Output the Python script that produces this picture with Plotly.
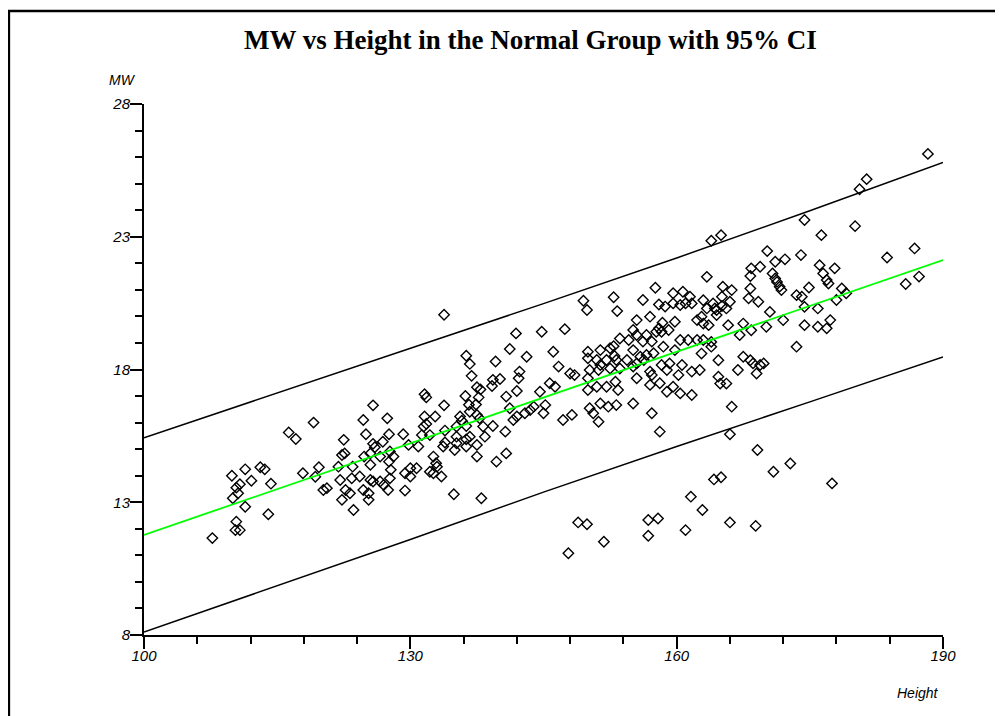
import plotly.graph_objects as go

# ---- data ----
h_a = [119.1, 116.3, 117.1, 109.9, 111.4, 113.1, 113.6, 112.1, 114.3, 110.8, 110.4, 110.0,
       110.6, 111.4, 114.0, 110.4, 110.3, 110.8, 107.7, 117.9, 119.7, 119.3, 120.2, 120.6]
mw_a = [16.00, 15.63, 15.38, 14.00, 14.24, 14.32, 14.24, 13.81, 13.70, 13.68, 13.55, 13.15,
        13.34, 12.83, 12.55, 12.27, 11.95, 11.95, 11.65, 14.09, 14.32, 13.96, 13.46, 13.53]

h_b = [133.8, 141.9, 141.2, 136.3, 139.6, 136.7, 143.1, 136.9, 142.3, 142.2, 140.1, 139.3,
       139.2, 137.5, 137.9, 131.6, 131.8, 136.2, 137.7, 140.8, 142.0, 125.8, 133.8, 137.4,
       136.6, 141.2, 131.6, 132.8, 135.6, 136.7, 124.7, 127.4, 137.5, 137.8, 135.8, 142.0,
       141.6, 142.9, 131.5, 131.8, 133.9, 135.2, 136.3, 138.2, 139.3, 140.7, 122.5, 125.0,
       127.6, 129.2, 125.8, 126.9, 126.0, 132.2, 135.2, 136.7, 138.4, 131.3, 133.9, 135.2,
       136.3, 137.5, 122.3, 122.6, 124.8, 125.5, 126.6, 127.7, 128.1, 129.8, 130.9, 133.7,
       135.0, 136.3, 137.5, 139.7, 140.8, 121.9, 123.5, 125.5, 127.6, 132.6, 132.9, 133.0,
       130.0, 129.4, 130.7, 132.2, 127.8, 122.1, 123.4, 124.3, 125.5, 125.8, 126.6, 127.7,
       127.0, 130.0, 132.6, 133.5, 122.7, 122.3, 123.2, 124.7, 125.3, 125.3, 127.5, 129.4,
       134.9, 138.0, 123.6]
mw_b = [20.06, 19.36, 18.77, 18.52, 18.30, 18.21, 18.48, 17.76, 17.92, 17.67, 17.64, 17.61,
        17.38, 17.33, 17.25, 17.07, 16.95, 17.00, 16.95, 16.98, 17.19, 16.65, 16.65, 16.68,
        16.67, 16.54, 16.23, 16.23, 16.23, 16.41, 16.10, 16.16, 16.29, 16.16, 16.07, 16.23,
        16.10, 16.35, 15.85, 15.95, 15.70, 15.85, 15.87, 15.85, 15.87, 15.66, 15.35, 15.56,
        15.56, 15.56, 15.20, 15.28, 15.07, 15.53, 15.47, 15.47, 15.47, 15.53, 15.25, 15.22,
        15.37, 15.16, 14.78, 14.84, 14.72, 14.84, 14.72, 14.91, 14.72, 15.16, 15.10, 15.10,
        14.97, 15.10, 14.72, 14.53, 14.84, 14.34, 14.34, 14.41, 14.53, 14.72, 14.47, 14.34,
        14.28, 14.09, 14.28, 14.15, 14.22, 13.84, 13.90, 13.97, 13.84, 13.78, 13.78, 13.90,
        13.65, 13.97, 14.09, 13.97, 13.46, 13.09, 13.34, 13.46, 13.34, 13.09, 13.46, 13.44,
        13.30, 13.15, 12.71]

h_c = [157.6, 159.6, 160.7, 161.5, 161.7, 152.9, 156.2, 149.5, 149.9, 153.3, 158.0, 158.7,
       159.6, 160.4, 161.0, 162.3, 155.5, 157.0, 158.4, 159.8, 158.0, 158.3, 159.1, 144.8,
       147.4, 155.1, 155.5, 156.6, 157.7, 153.6, 154.6, 152.9, 156.2, 157.2, 160.4, 161.3,
       162.3, 146.1, 150.0, 151.4, 152.5, 153.0, 155.1, 155.9, 156.6, 157.4, 158.5, 159.8,
       150.0, 151.0, 152.1, 153.2, 154.4, 155.5, 156.3, 158.3, 159.2, 160.6, 151.4, 146.7,
       148.0, 148.5, 150.2, 151.2, 152.5, 153.6, 155.1, 157.0, 158.9, 160.2, 161.7, 145.7,
       146.3, 144.6, 150.0, 150.0, 151.0, 152.1, 153.1, 153.4, 155.5, 155.1, 157.2, 158.1,
       158.9, 159.6, 160.4, 161.7, 157.0, 143.5, 143.9, 145.0, 145.2, 147.2, 148.2, 150.2,
       150.6, 151.2, 151.4, 152.3, 153.2, 157.2, 158.1]
mw_c = [21.08, 20.87, 20.93, 20.74, 20.49, 20.72, 20.62, 20.59, 20.24, 20.20, 20.45, 20.37,
        20.49, 20.43, 20.49, 19.86, 19.86, 19.99, 19.76, 19.80, 19.55, 19.42, 19.49, 19.42,
        19.52, 19.49, 19.30, 19.30, 19.42, 19.17, 19.11, 18.88, 19.05, 19.05, 19.11, 19.11,
        19.11, 18.67, 18.67, 18.73, 18.80, 18.51, 18.73, 18.48, 18.55, 18.61, 18.86, 18.73,
        18.42, 18.36, 18.36, 18.36, 18.36, 18.23, 18.36, 18.17, 18.23, 18.17, 18.17, 18.11,
        17.85, 17.79, 17.98, 17.98, 18.04, 18.04, 18.11, 17.92, 17.98, 17.79, 17.92, 17.48,
        17.35, 17.16, 17.67, 17.23, 17.35, 17.35, 17.54, 17.23, 17.67, 16.72, 17.79, 17.48,
        17.16, 17.35, 17.10, 17.04, 17.42, 16.47, 16.60, 16.35, 16.66, 16.10, 16.29, 16.54,
        16.35, 16.03, 16.72, 16.60, 16.66, 16.35, 15.66]

h_d = [174.4, 176.3, 163.9, 165.0, 170.2, 174.0, 171.1, 172.2, 168.4, 169.4, 163.4, 168.3,
       170.8, 171.1, 171.3, 171.6, 171.8, 176.1, 176.5, 176.9, 177.8, 178.6, 166.2, 165.2,
       165.1, 168.3, 168.1, 169.2, 173.5, 174.1, 174.9, 174.4, 175.9, 163.0, 164.1, 164.3,
       164.5, 165.1, 165.6, 166.0, 163.4, 162.8, 163.0, 163.6, 164.5, 165.8, 167.5, 168.4,
       170.1, 170.5, 172.0, 174.4, 175.9, 177.3, 176.9, 167.1, 163.9, 163.0, 163.9, 173.5,
       162.8, 164.7, 166.9, 167.5, 168.3, 168.6, 169.4, 169.8, 169.0, 164.7, 164.9, 165.6,
       166.2, 162.6]
mw_d = [23.63, 23.06, 22.85, 23.06, 22.46, 22.31, 22.06, 22.15, 21.81, 21.87, 21.49, 21.52,
        21.62, 21.43, 21.30, 21.12, 20.99, 21.93, 21.62, 21.37, 21.81, 21.05, 20.99, 21.12,
        20.74, 21.05, 20.68, 20.55, 20.80, 20.74, 21.09, 20.36, 20.30, 20.61, 20.49, 20.30,
        20.24, 20.39, 20.30, 20.55, 20.30, 19.99, 19.73, 19.67, 20.05, 19.67, 19.73, 19.48,
        19.61, 20.17, 19.86, 19.67, 19.61, 19.86, 19.55, 19.30, 19.04, 19.11, 18.86, 18.86,
        18.60, 18.35, 17.98, 18.48, 18.35, 18.23, 18.17, 18.23, 17.85, 17.73, 17.47, 17.47,
        16.60, 17.98]

h_e = [166.0, 169.1, 170.9, 172.8, 164.2, 165.0, 161.6, 162.9, 166.0, 168.9, 148.9, 149.9,
       156.8, 157.9, 161.0, 156.8, 151.8, 147.8]
mw_e = [15.56, 14.97, 14.15, 14.46, 13.86, 13.94, 13.21, 12.71, 12.24, 12.11, 12.24, 12.17,
        12.33, 12.39, 11.95, 11.74, 11.51, 11.08]

h_f = [188.3, 181.4, 180.6, 180.1, 183.7, 186.8, 187.3, 185.8, 179.1, 178.0, 177.1, 177.5]
mw_f = [26.12, 25.17, 24.79, 23.40, 22.22, 22.56, 21.50, 21.22, 20.87, 20.62, 21.24, 13.71]

height = h_a + h_b + h_c + h_d + h_e + h_f
mw = mw_a + mw_b + mw_c + mw_d + mw_e + mw_f

fit_x = [100, 190]
fit_y = [11.77, 22.12]

ci_x = [100, 115, 130, 145, 160, 175, 190]
ci_upper = [15.43, 17.12, 18.80, 20.48, 22.20, 23.98, 25.80]
ci_lower = [8.11, 9.85, 11.60, 13.38, 15.10, 16.78, 18.47]

x_ticks = [100, 130, 160, 190]
y_ticks = [8, 13, 18, 23, 28]

title_text = "MW vs Height in the Normal Group with 95% CI"

# ---- figure ----
# page body has an 8px margin: plot area spans screen x 144..943, y 104..635
PX0, PY0, PW, PH = 144, 104, 799, 531


def px(x):
    return (x - PX0) / PW


def py(y):
    return (PY0 + PH - y) / PH


fig = go.Figure()
fig.add_trace(go.Scatter(x=ci_x, y=ci_upper, mode="lines",
                         line=dict(color="black", width=1.5), hoverinfo="skip"))
fig.add_trace(go.Scatter(x=ci_x, y=ci_lower, mode="lines",
                         line=dict(color="black", width=1.5), hoverinfo="skip"))
fig.add_trace(go.Scatter(x=height, y=mw, mode="markers",
                         marker=dict(symbol="diamond-open", size=8, color="black",
                                     line=dict(color="black", width=1.4))))
fig.add_trace(go.Scatter(x=fit_x, y=fit_y, mode="lines",
                         line=dict(color="#00ff00", width=1.8), hoverinfo="skip"))

tick_font = dict(family="Liberation Sans Narrow, Liberation Sans, Arial", size=15,
                 color="black", style="italic")
label_font = dict(family="Liberation Sans Narrow, Liberation Sans, Arial", size=14,
                  color="black", style="italic")

fig.update_layout(
    width=995, height=708,
    margin=dict(l=136, r=60, t=96, b=81),
    paper_bgcolor="white", plot_bgcolor="white",
    showlegend=False,
    xaxis=dict(range=[100, 190], tickvals=x_ticks, ticktext=[str(v) for v in x_ticks],
               showline=True, linecolor="black", linewidth=2, ticks="outside",
               ticklen=12, tickwidth=1.5, tickcolor="black", showgrid=False,
               zeroline=False, tickfont=tick_font, ticklabelstandoff=-6,
               minor=dict(dtick=6, tick0=100, ticks="outside", ticklen=7, tickwidth=1.5,
                          tickcolor="black", showgrid=False)),
    yaxis=dict(range=[8, 28], tickvals=y_ticks, ticktext=[str(v) for v in y_ticks],
               showline=True, linecolor="black", linewidth=2, ticks="outside",
               ticklen=12, tickwidth=1.5, tickcolor="black", showgrid=False,
               zeroline=False, tickfont=tick_font, ticklabelstandoff=-3,
               minor=dict(dtick=1, tick0=8, ticks="outside", ticklen=7, tickwidth=1.5,
                          tickcolor="black", showgrid=False)),
    annotations=[
        dict(text=title_text, xref="paper", yref="paper", x=px(530), y=py(40),
             xanchor="center", yanchor="middle", showarrow=False,
             font=dict(family="Liberation Serif, Times New Roman", size=27,
                       color="black", weight="bold")),
        dict(text="MW", xref="paper", yref="paper", x=px(122), y=py(80),
             xanchor="center", yanchor="middle", showarrow=False, font=label_font),
        dict(text="Height", xref="paper", yref="paper", x=px(918), y=py(693),
             xanchor="center", yanchor="middle", showarrow=False, font=label_font),
    ],
    shapes=[
        dict(type="line", xref="paper", yref="paper", x0=px(8), x1=px(1010),
             y0=py(11), y1=py(11), line=dict(color="black", width=2.3)),
        dict(type="line", xref="paper", yref="paper", x0=px(9), x1=px(9),
             y0=py(11), y1=py(725), line=dict(color="black", width=2.3)),
    ],
)

fig.write_html("out.html")
